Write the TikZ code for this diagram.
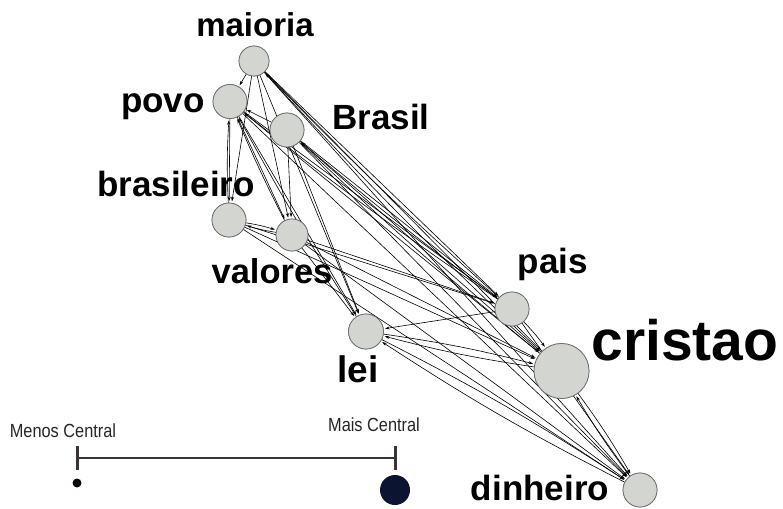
\documentclass[tikz,border=0pt]{standalone}
\usepackage{fontspec}
\setmainfont{Liberation Sans}
\usetikzlibrary{arrows.meta}
\definecolor{nodefill}{HTML}{D3D6D0}
\definecolor{nodeedge}{HTML}{6A6A6A}
\definecolor{navy}{HTML}{0B1430}
\definecolor{legline}{HTML}{3A3436}
\tikzset{
  vert/.style={circle,draw=nodeedge,fill=nodefill,line width=0.7pt,inner sep=0pt,minimum size=#1},
  lab/.style={anchor=base,inner sep=0pt,font=\bfseries\fontsize{#1}{#1}\selectfont},
  edge/.style={-{Stealth[length=4.5pt,width=3pt]},line width=0.6pt,black,shorten >=1.5pt},
  legtxt/.style={anchor=base,inner sep=0pt,font=\fontsize{19}{19}\selectfont,text=black!85},
}
\begin{document}
\begin{tikzpicture}[x=1pt,y=-1pt]
\useasboundingbox (0,0) rectangle (783,508);
\coordinate (cm) at (254,61);
\coordinate (cpv) at (230,101.5);
\coordinate (cbr) at (287,130);
\coordinate (cbl) at (229,220);
\coordinate (cva) at (292,235);
\coordinate (cpa) at (512,309);
\coordinate (cle) at (366,331.5);
\coordinate (ccr) at (561.5,371);
\coordinate (cdi) at (640,490);
\node[vert=30pt] (maioria) at (cm) {};
\node[vert=34pt] (povo) at (cpv) {};
\node[vert=34pt] (Brasil) at (cbr) {};
\node[vert=34pt] (brasileiro) at (cbl) {};
\node[vert=32pt] (valores) at (cva) {};
\node[vert=34pt] (pais) at (cpa) {};
\node[vert=35pt] (lei) at (cle) {};
\node[vert=55pt] (cristao) at (ccr) {};
\node[vert=34pt] (dinheiro) at (cdi) {};
\begin{scope}
\draw[edge] (maioria) -- (povo);
\draw[edge] (maioria) -- (brasileiro);
\draw[edge] (maioria) -- (valores);
\draw[edge] (maioria) -- (lei);
\draw[edge] (maioria) -- (pais);
\draw[edge] (maioria) -- (cristao);
\draw[edge] (maioria) -- (dinheiro);
\draw[edge,bend left=2] (pais) to (maioria);
\draw[edge,bend left=2] (cristao) to (maioria);
\draw[edge] (povo) -- (brasileiro);
\draw[edge] (povo) -- (lei);
\draw[edge] (povo) -- (pais);
\draw[edge] (povo) -- (cristao);
\draw[edge] (povo) -- (dinheiro);
\draw[edge] (povo) -- (valores);
\draw[edge] (Brasil) -- (povo);
\draw[edge] (Brasil) -- (valores);
\draw[edge] (Brasil) -- (lei);
\draw[edge] (Brasil) -- (cristao);
\draw[edge] (Brasil) -- (dinheiro);
\draw[edge] (Brasil) -- (pais);
\draw[edge,bend left=2] (cristao) to (Brasil);
\draw[edge,bend left=2] (pais) to (Brasil);
\draw[edge,bend left=3] (brasileiro) to (povo);
\draw[edge,bend left=4] (brasileiro) to (valores);
\draw[edge] (brasileiro) -- (pais);
\draw[edge] (brasileiro) -- (cristao);
\draw[edge] (brasileiro) -- (dinheiro);
\draw[edge,bend left=4] (valores) to (brasileiro);
\draw[edge,bend left=2] (valores) to (povo);
\draw[edge] (valores) -- (pais);
\draw[edge] (valores) -- (cristao);
\draw[edge] (valores) -- (dinheiro);
\draw[edge] (valores) -- (lei);
\draw[edge,bend left=2] (lei) to (povo);
\draw[edge,bend left=3] (lei) to (cristao);
\draw[edge,bend left=3] (lei) to (dinheiro);
\draw[edge] (pais) -- (lei);
\draw[edge,bend left=4] (pais) to (cristao);
\draw[edge] (pais) -- (dinheiro);
\draw[edge,bend left=2] (pais) to (povo);
\draw[edge,bend left=3] (cristao) to (lei);
\draw[edge,bend left=3] (cristao) to (dinheiro);
\draw[edge,bend left=3] (dinheiro) to (cristao);
\draw[edge,bend left=3] (dinheiro) to (lei);
\end{scope}
% nodes drawn again on top of the connectors
\node[vert=30pt] at (cm) {};
\node[vert=34pt] at (cpv) {};
\node[vert=34pt] at (cbr) {};
\node[vert=34pt] at (cbl) {};
\node[vert=32pt] at (cva) {};
\node[vert=34pt] at (cpa) {};
\node[vert=35pt] at (cle) {};
\node[vert=55pt] at (ccr) {};
\node[vert=34pt] at (cdi) {};
% labels
\node[lab=33] (lmaioria) at (255,37) {maioria};
\node[lab=35] (lpovo) at (163,113) {povo};
\node[lab=35] (lBrasil) at (381,129) {Brasil};
\node[lab=35] (lbrasileiro) at (176,196) {brasileiro};
\node[lab=34.5] (lvalores) at (272,283) {valores};
\node[lab=35] (lpais) at (553,273) {pais};
\node[lab=37] (llei) at (358,382) {lei};
\node[lab=57] (lcristao) at (685,360) {cristao};
\node[lab=35] (ldinheiro) at (540,500) {dinheiro};
% legend
\node[legtxt] (lmenos) at (63,437) {\scalebox{0.86}[1]{Menos Central}};
\node[legtxt] (lmais) at (374,431) {\scalebox{0.86}[1]{Mais Central}};
\coordinate (lt1) at (77,446);
\coordinate (lb1) at (77,470);
\coordinate (rt1) at (395,446);
\coordinate (rb1) at (395,470);
\coordinate (lm) at (77,458);
\coordinate (rm) at (395,458);
\draw[legline,line width=3pt] (lt1) -- (lb1);
\draw[legline,line width=3pt] (rt1) -- (rb1);
\draw[legline,line width=2pt] (lm) -- (rm);
\node[circle,fill=black!95!green,inner sep=0pt,minimum size=9pt] (dsmall) at (77,483) {};
\node[circle,fill=navy,inner sep=0pt,minimum size=30pt] (dbig) at (395,490) {};
\end{tikzpicture}
\end{document}
